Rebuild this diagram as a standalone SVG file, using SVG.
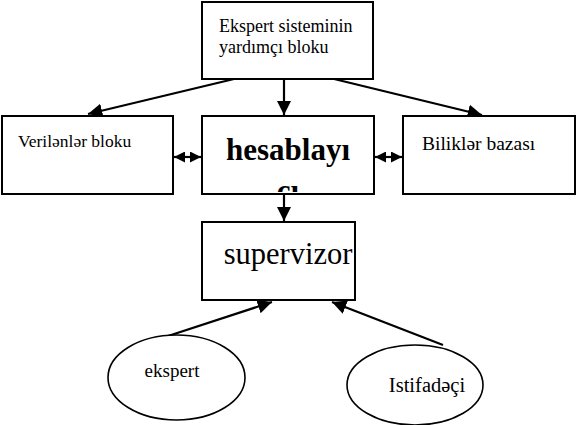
<svg xmlns="http://www.w3.org/2000/svg" width="577" height="425" viewBox="0 0 577 425">
<style>
.box{fill:#fff;stroke:#000;stroke-width:2}
.ell{fill:#fff;stroke:#000;stroke-width:1.6}
.t{font-family:"Liberation Serif","Times New Roman",serif;fill:#000}
.c{stroke:#000;stroke-width:2.2;fill:none}
</style>
<defs>
<marker id="ah2" viewBox="0 0 10 10" refX="10" refY="5" markerWidth="6.5" markerHeight="6.5" orient="auto-start-reverse">
<path d="M0,0 L10,5 L0,10 z" fill="#000"/>
</marker>
<marker id="ahs" viewBox="0 0 10 10" refX="10" refY="5" markerWidth="5" markerHeight="5" orient="auto-start-reverse">
<path d="M0,0 L10,5 L0,10 z" fill="#000"/>
</marker>
<clipPath id="hclip"><rect x="203" y="117" width="170" height="75"/></clipPath>
</defs>
<rect width="577" height="425" fill="#fff"/>
<g id="connectors">
<line class="c" x1="234" y1="79" x2="88" y2="114" marker-end="url(#ah2)"/>
<line class="c" x1="284" y1="79" x2="284" y2="115" marker-end="url(#ah2)"/>
<line class="c" x1="330" y1="78" x2="482" y2="115" marker-end="url(#ah2)"/>
<line class="c" x1="284" y1="194" x2="284" y2="221" marker-end="url(#ah2)"/>
<line class="c" x1="174" y1="157" x2="201" y2="157" marker-start="url(#ahs)" marker-end="url(#ahs)"/>
<line class="c" x1="375" y1="157" x2="402" y2="157" marker-start="url(#ahs)" marker-end="url(#ahs)"/>
<line class="c" x1="165" y1="337" x2="272" y2="302" marker-end="url(#ah2)"/>
<line class="c" x1="443" y1="345" x2="332" y2="302" marker-end="url(#ah2)"/>
</g>
<g id="yardimci">
<rect class="box" x="202" y="2" width="171" height="77"/>
<text class="t" x="219" y="32" font-size="18">Ekspert sisteminin</text>
<text class="t" x="219" y="53" font-size="18">yardımçı bloku</text>
</g>
<g id="verilenler">
<rect class="box" x="2" y="116" width="171" height="78"/>
<text class="t" x="18" y="147" font-size="17.5">Verilənlər bloku</text>
</g>
<g id="hesablayici">
<rect class="box" x="202" y="116" width="172" height="78"/>
<g clip-path="url(#hclip)">
<text class="t" x="288" y="160" font-size="31" font-weight="bold" text-anchor="middle">hesablayı</text>
<text class="t" x="288" y="201" font-size="31" font-weight="bold" text-anchor="middle">cı</text>
</g>
</g>
<g id="bilikler">
<rect class="box" x="403" y="116" width="172" height="78"/>
<text class="t" x="422" y="150" font-size="19.5">Biliklər bazası</text>
</g>
<g id="supervizor">
<rect class="box" x="202" y="222" width="153" height="78"/>
<text class="t" x="288" y="264" font-size="30.5" text-anchor="middle">supervizor</text>
</g>
<g id="ekspert">
<ellipse class="ell" cx="176.5" cy="377.5" rx="68.5" ry="42.5"/>
<text class="t" x="172" y="377" font-size="19" text-anchor="middle">ekspert</text>
</g>
<g id="istifadeci">
<ellipse class="ell" cx="415" cy="385" rx="68" ry="40"/>
<text class="t" x="427" y="392" font-size="20.5" text-anchor="middle">Istifadəçi</text>
</g>
</svg>
